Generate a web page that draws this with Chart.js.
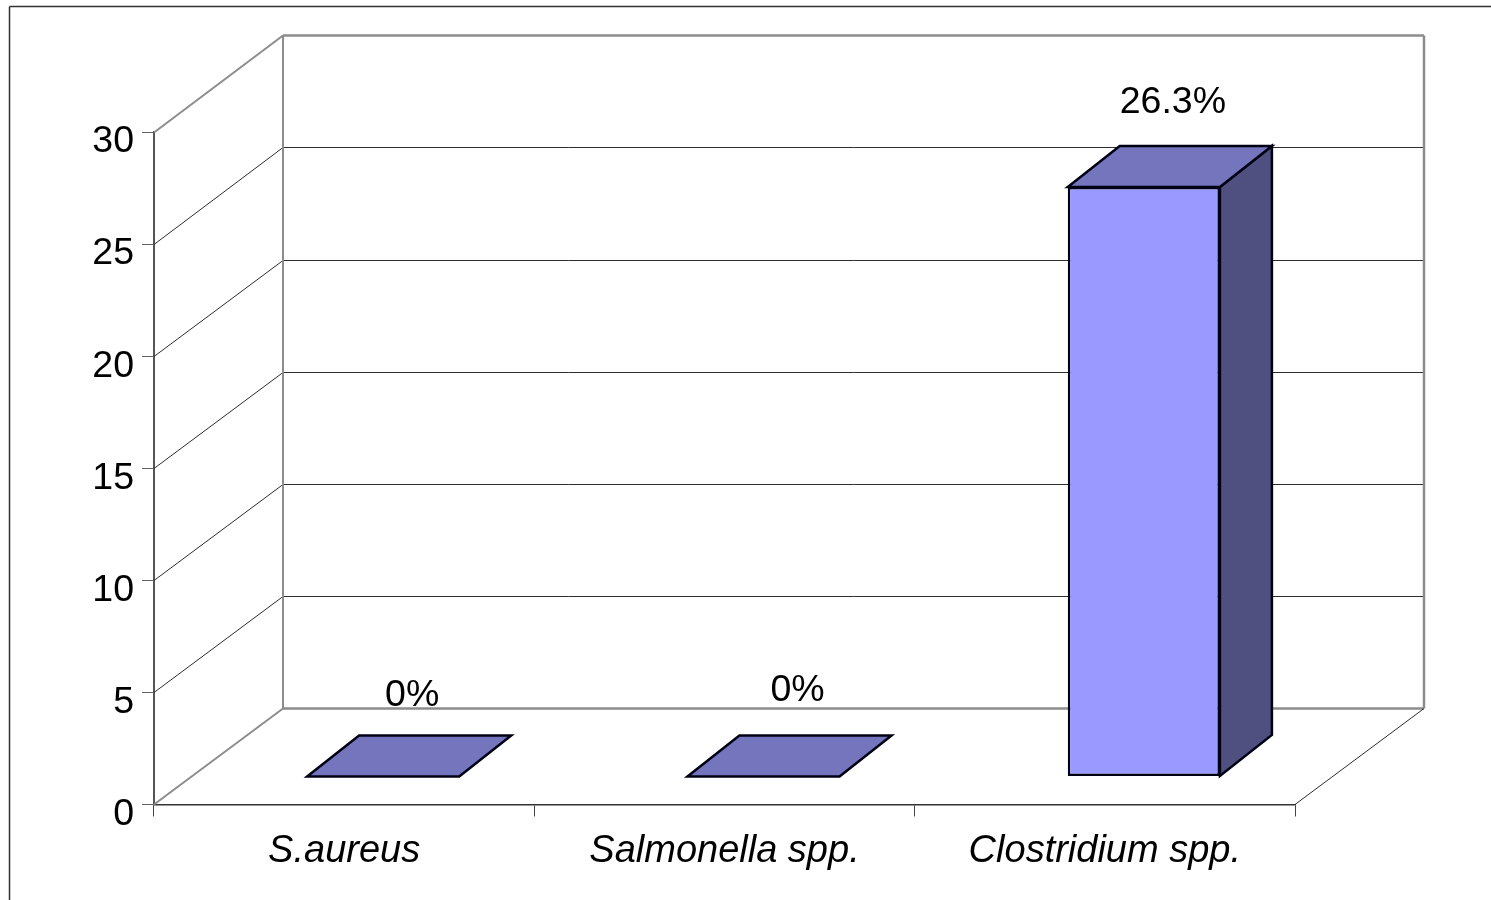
<!DOCTYPE html>
<html>
<head>
<meta charset="utf-8">
<title>Chart</title>
<script src="https://cdn.jsdelivr.net/npm/chart.js@4"></script>
<style>
  html, body { margin: 0; padding: 0; background: #fff; overflow: hidden; }
  canvas { display: block; }
</style>
</head>
<body>
<canvas id="barchart-3d" width="1491" height="900"></canvas>
<script>
var categories = ["S.aureus", "Salmonella spp.", "Clostridium spp."];
var seriesValues = [0, 0, 26.3];
var valueLabels = ["0%", "0%", "26.3%"];
var yTicks = [0, 5, 10, 15, 20, 25, 30];

// the fake 3d: how far the back wall and the bars sit from the front axes
var wallDepth = { x: 129, y: -96 };
var wallStretch = 1.001;
var barShift = { x: 39, y: -28 };
var barDepth = { x: 52, y: -41 };
var labelNudgeX = [0, 5, 0];
var labelNudgeY = [1, -4, -2];

var FONT = '"Liberation Sans", Arial, sans-serif';
var WALL_GREY = "#8c8c8c";
var GRID_DARK = "#2c2c2c";
var BAR_EDGE = "#000014";

function line(ctx, x1, y1, x2, y2, color, width) {
  ctx.beginPath();
  ctx.moveTo(x1, y1);
  ctx.lineTo(x2, y2);
  ctx.strokeStyle = color;
  ctx.lineWidth = width;
  ctx.stroke();
}

function poly(ctx, pts, fill) {
  ctx.beginPath();
  ctx.moveTo(pts[0][0], pts[0][1]);
  for (var i = 1; i < pts.length; i++) ctx.lineTo(pts[i][0], pts[i][1]);
  ctx.closePath();
  ctx.fillStyle = fill;
  ctx.fill();
  ctx.strokeStyle = BAR_EDGE;
  ctx.lineWidth = 2.5;
  ctx.lineJoin = "miter";
  ctx.stroke();
}

var frame3d = {
  id: "frame3d",
  beforeDatasetsDraw: function (chart) {
    var ctx = chart.ctx, a = chart.chartArea, yScale = chart.scales.y;
    var dx = wallDepth.x, dy = wallDepth.y;
    var backY = function (y) {
      return Math.floor(a.bottom + dy + (y - a.bottom) * wallStretch) + 0.5;
    };
    ctx.save();
    // sheet border, only top and left are visible
    line(ctx, 9.5, 900, 9.5, 6.5, "#333", 1.5);
    line(ctx, 9.5, 6.5, 1491, 6.5, "#333", 1.5);

    yTicks.forEach(function (t) {
      var y = Math.floor(yScale.getPixelForValue(t)) + 0.5;
      var edge = t === 0 || t === 30;
      line(ctx, a.left, y, a.left + dx, backY(y), edge ? WALL_GREY : GRID_DARK, edge ? 2 : 1);
      line(ctx, a.left + dx, backY(y), a.right + dx, backY(y), edge ? WALL_GREY : GRID_DARK, edge ? 2.5 : 1);
    });
    line(ctx, a.left + dx, backY(a.top), a.left + dx, backY(a.bottom), WALL_GREY, 2);
    line(ctx, a.right + dx, backY(a.top), a.right + dx, backY(a.bottom), WALL_GREY, 2.5);
    line(ctx, a.right, a.bottom, a.right + dx, backY(a.bottom), GRID_DARK, 1);

    // side and top faces of the bars, the front face is the real chart.js bar
    chart.getDatasetMeta(0).data.forEach(function (bar) {
      var l = bar.x - bar.width / 2 + barShift.x, r = bar.x + bar.width / 2 + barShift.x;
      var t = bar.y + barShift.y, b = bar.base + barShift.y;
      var ox = barDepth.x, oy = barDepth.y;
      if (b - t > 1) {
        poly(ctx, [[r, t], [r + ox, t + oy], [r + ox, b + oy], [r, b]], "#4f4f80");
      }
      poly(ctx, [[l, t], [l + ox, t + oy], [r + ox, t + oy], [r, t]], "#7575bd");
    });
    ctx.restore();
  },
  beforeDatasetDraw: function (chart) {
    chart.ctx.save();
    chart.ctx.translate(barShift.x, barShift.y);
  },
  afterDatasetDraw: function (chart) {
    chart.ctx.restore();
  },
  afterDatasetsDraw: function (chart) {
    var ctx = chart.ctx;
    ctx.save();
    ctx.font = "37.5px " + FONT;
    ctx.fillStyle = "#000";
    ctx.textAlign = "center";
    ctx.textBaseline = "middle";
    chart.getDatasetMeta(0).data.forEach(function (bar, i) {
      ctx.fillText(valueLabels[i],
        bar.x + barShift.x + 29 + labelNudgeX[i],
        bar.y + barShift.y - 82 + labelNudgeY[i]);
    });
    ctx.restore();
  }
};

var chart = new Chart(document.getElementById("barchart-3d").getContext("2d"), {
  type: "bar",
  data: {
    labels: categories,
    datasets: [{
      data: seriesValues,
      backgroundColor: "#9999ff",
      borderColor: BAR_EDGE,
      borderWidth: 2.5,
      borderSkipped: false,
      barPercentage: 0.4,
      categoryPercentage: 1,
      clip: false
    }]
  },
  plugins: [frame3d],
  options: {
    responsive: false,
    animation: false,
    layout: { padding: { top: 132, right: 196, left: 0, bottom: 0 } },
    plugins: { legend: { display: false }, tooltip: { enabled: false } },
    scales: {
      x: {
        afterFit: function (scale) { scale.height = 95.5; },
        border: { color: "#333", width: 1.5 },
        grid: { drawOnChartArea: false, drawTicks: true, tickLength: 12, color: "#444" },
        ticks: {
          color: "#000",
          padding: 12,
          maxRotation: 0,
          font: { family: FONT, size: 38, style: "italic" }
        }
      },
      y: {
        min: 0,
        max: 30,
        afterFit: function (scale) { scale.width = 154; },
        afterBuildTicks: function (scale) {
          scale.ticks = yTicks.map(function (v) { return { value: v }; });
        },
        border: { color: "#555", width: 2 },
        grid: { drawOnChartArea: false, drawTicks: true, tickLength: 12, color: "#666" },
        ticks: {
          color: "#000",
          padding: 8,
          labelOffset: 10,
          font: { family: FONT, size: 37.5 }
        }
      }
    }
  }
});
</script>
</body>
</html>
